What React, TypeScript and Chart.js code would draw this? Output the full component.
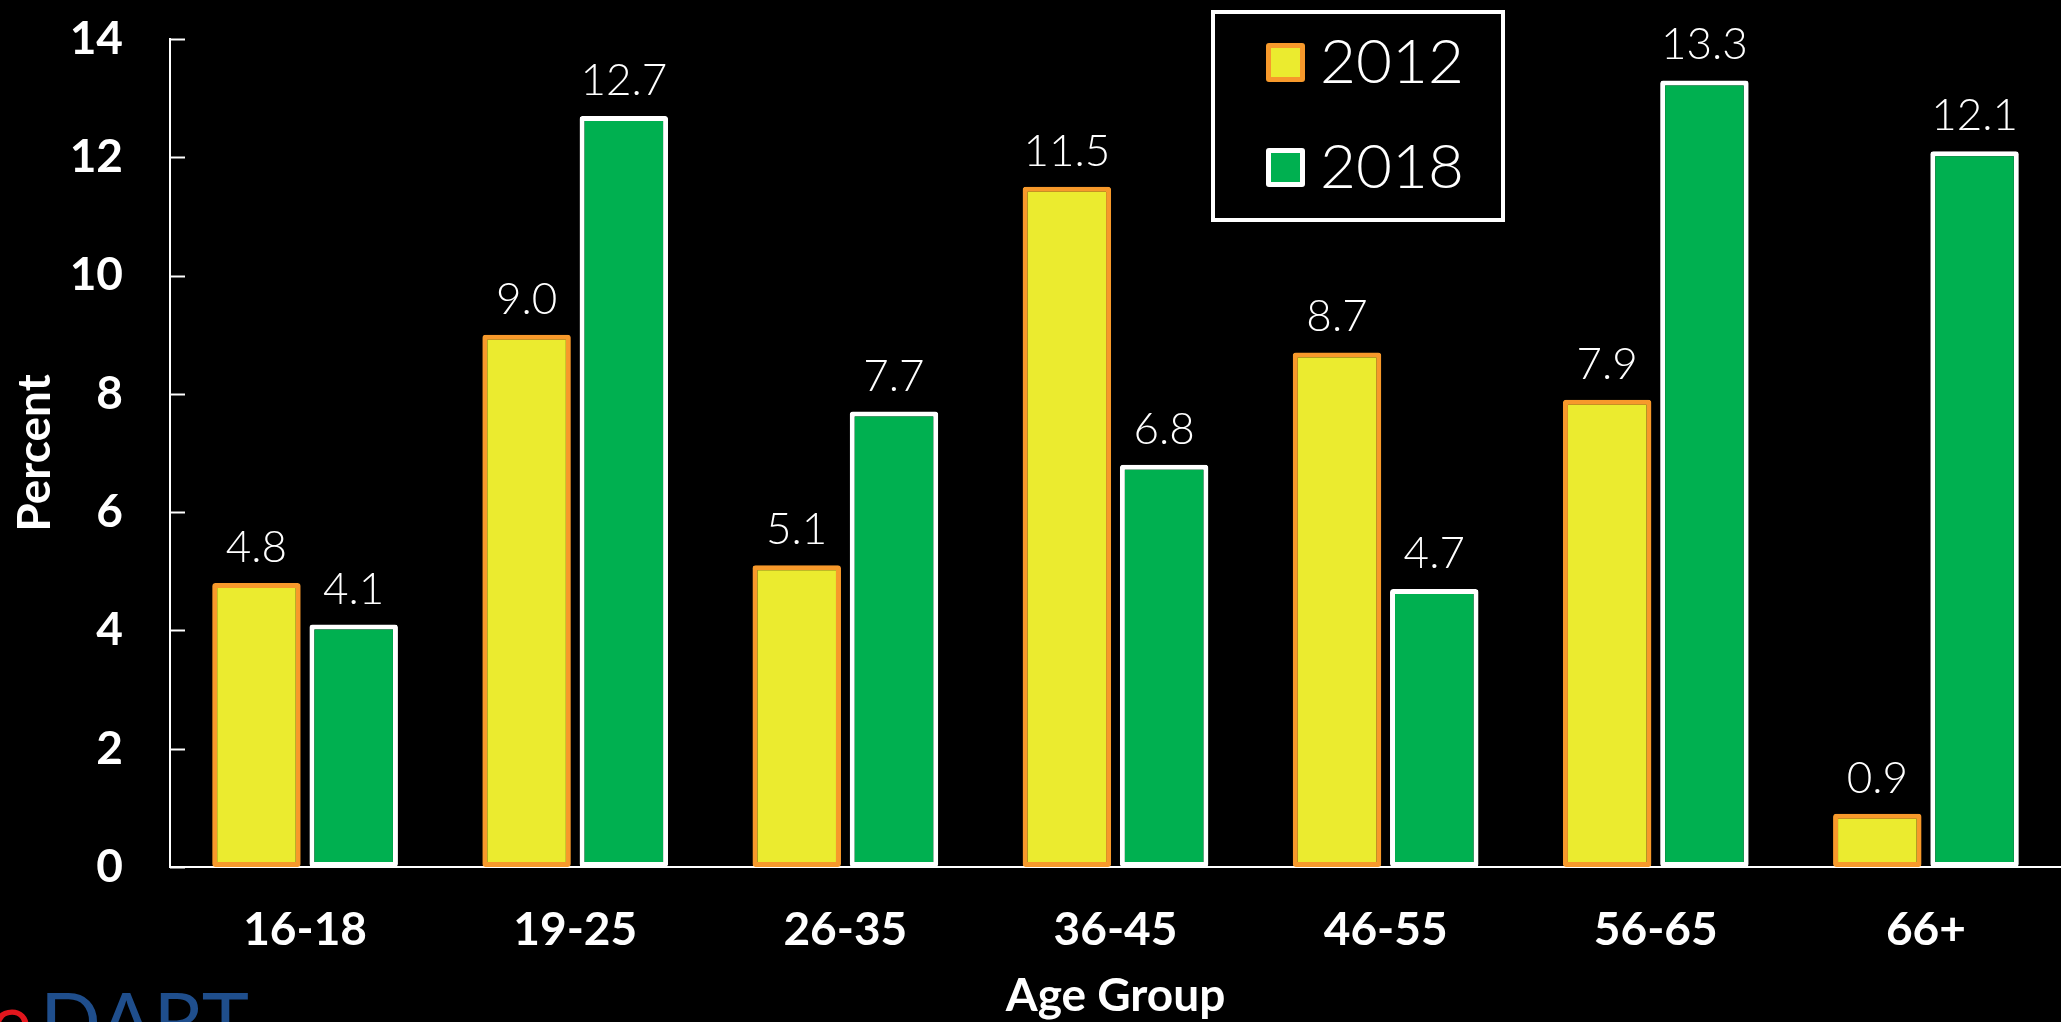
import { useEffect, useRef } from 'react';
import { Chart, registerables } from 'chart.js';

Chart.register(...registerables);

const categories = ['16-18', '19-25', '26-35', '36-45', '46-55', '56-65', '66+'];
const seriesLabels = ['2012', '2018'];
const values2012 = [4.8, 9.0, 5.1, 11.5, 8.7, 7.9, 0.9];
const values2018 = [4.1, 12.7, 7.7, 6.8, 4.7, 13.3, 12.1];
const yMin = 0;
const yMax = 14;
const yStep = 2;
const xTitle = 'Age Group';
const yTitle = 'Percent';

const FONT = 'Lato, "Noto Sans", sans-serif';

const innerTicksPlugin = {
  id: 'innerTicks',
  afterDraw(chart: any) {
    const ctx = chart.ctx;
    const y = chart.scales.y;
    const left = chart.chartArea.left;
    ctx.save();
    ctx.strokeStyle = '#ffffff';
    ctx.lineWidth = 2;
    y.ticks.forEach((t: any) => {
      const py = Math.round(y.getPixelForValue(t.value)) + 0.5;
      ctx.beginPath();
      ctx.moveTo(left, py);
      ctx.lineTo(left + 15, py);
      ctx.stroke();
    });
    ctx.restore();
  },
};

const valueLabelsPlugin = {
  id: 'valueLabels',
  afterDatasetsDraw(chart: any) {
    const ctx = chart.ctx;
    ctx.save();
    ctx.fillStyle = '#ffffff';
    ctx.font = `300 44px ${FONT}`;
    ctx.textAlign = 'center';
    ctx.textBaseline = 'alphabetic';
    chart.data.datasets.forEach((ds: any, i: number) => {
      const meta = chart.getDatasetMeta(i);
      meta.data.forEach((bar: any, j: number) => {
        ctx.fillText(Number(ds.data[j]).toFixed(1), bar.x, bar.y - 21);
      });
    });
    ctx.restore();
  },
};

const legendBoxPlugin = {
  id: 'legendBox',
  afterDraw(chart: any) {
    const ctx = chart.ctx;
    ctx.save();
    ctx.strokeStyle = '#ffffff';
    ctx.lineWidth = 4;
    ctx.strokeRect(1213, 12, 290, 208);
    chart.data.datasets.forEach((ds: any, i: number) => {
      const sy = 43 + i * 105;
      const sx = 1266;
      const s = 39;
      ctx.fillStyle = ds.borderColor;
      ctx.beginPath();
      (ctx as any).roundRect(sx, sy, s, s, 3);
      ctx.fill();
      ctx.fillStyle = ds.backgroundColor;
      ctx.fillRect(sx + 5, sy + 5, s - 10, s - 10);
      ctx.fillStyle = '#ffffff';
      ctx.font = `300 62px ${FONT}`;
      ctx.textAlign = 'left';
      ctx.textBaseline = 'alphabetic';
      ctx.fillText(ds.label, 1320, 83 + i * 105);
    });
    ctx.restore();
  },
};

const logoPlugin = {
  id: 'logo',
  afterDraw(chart: any) {
    const ctx = chart.ctx;
    ctx.save();
    ctx.font = `400 80px ${FONT}`;
    ctx.textBaseline = 'alphabetic';
    ctx.textAlign = 'right';
    ctx.fillStyle = '#E3161D';
    ctx.fillText('e', 32, 1050);
    ctx.textAlign = 'left';
    ctx.fillStyle = '#1F4E8C';
    ctx.fillText('DART', 40, 1050);
    ctx.restore();
  },
};

export default function App() {
  const ref = useRef<HTMLCanvasElement | null>(null);

  useEffect(() => {
    document.body.style.margin = '0';
    document.body.style.background = '#000';
    const canvas = ref.current;
    if (!canvas) return;
    const chart = new Chart(canvas, {
      type: 'bar',
      data: {
        labels: categories,
        datasets: [
          {
            label: seriesLabels[0],
            data: values2012,
            backgroundColor: '#EBEB2F',
            borderColor: '#F7992B',
            borderWidth: 5,
            borderRadius: 3,
            borderSkipped: false,
            categoryPercentage: 0.72,
            barPercentage: 0.91,
          },
          {
            label: seriesLabels[1],
            data: values2018,
            backgroundColor: '#00B050',
            borderColor: '#FFFFFF',
            borderWidth: 5,
            borderRadius: 3,
            borderSkipped: false,
            categoryPercentage: 0.72,
            barPercentage: 0.91,
          },
        ],
      },
      options: {
        responsive: false,
        maintainAspectRatio: false,
        animation: false,
        devicePixelRatio: 1,
        layout: { padding: { top: 39, right: 0, bottom: 0, left: 0 } },
        plugins: {
          legend: { display: false },
          tooltip: { enabled: false },
        },
        scales: {
          x: {
            grid: { display: false, drawTicks: false },
            border: { display: true, color: '#ffffff', width: 2 },
            ticks: {
              color: '#ffffff',
              font: { family: FONT, size: 46, weight: 'bold' },
              padding: 36,
              maxRotation: 0,
              autoSkip: false,
            },
            title: {
              display: true,
              text: xTitle,
              color: '#ffffff',
              font: { family: FONT, size: 46, weight: 'bold', lineHeight: 1 },
              padding: { top: 0, bottom: 3 },
            },
            afterFit: (scale: any) => {
              scale.height = 155;
              scale.paddingLeft = 0;
              scale.paddingRight = 0;
            },
          },
          y: {
            min: yMin,
            max: yMax,
            grid: { display: false, drawTicks: false },
            border: { display: true, color: '#ffffff', width: 2 },
            ticks: {
              stepSize: yStep,
              color: '#ffffff',
              font: { family: FONT, size: 46, weight: 'bold' },
              padding: 47,
            },
            title: {
              display: true,
              text: yTitle,
              color: '#ffffff',
              font: { family: FONT, size: 46, weight: 'bold', lineHeight: 1 },
              padding: { top: 12, bottom: 0 },
            },
            afterFit: (scale: any) => {
              scale.width = 170;
              scale.paddingTop = 0;
              scale.paddingBottom = 0;
            },
          },
        },
      },
      plugins: [innerTicksPlugin, valueLabelsPlugin, legendBoxPlugin, logoPlugin],
    } as any);
    return () => chart.destroy();
  }, []);

  return (
    <div style={{ position: 'fixed', left: 0, top: 0, width: 2061, height: 1022, background: '#000', overflow: 'hidden' }}>
      <canvas ref={ref} width={2061} height={1022} style={{ display: 'block', width: 2061, height: 1022 }} />
    </div>
  );
}
